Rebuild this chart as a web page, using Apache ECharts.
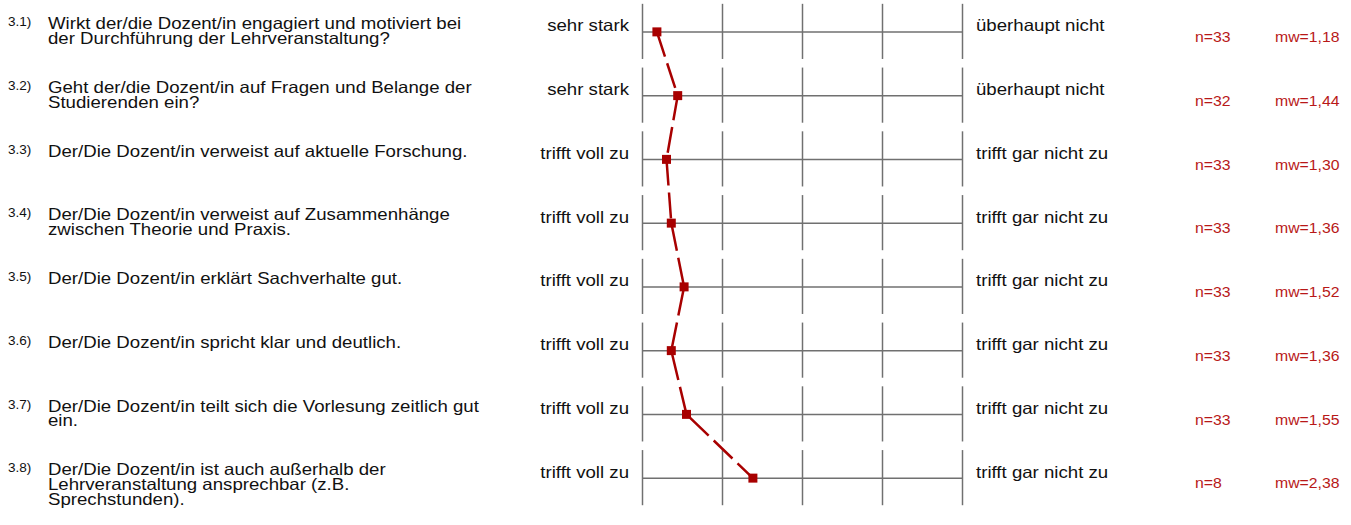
<!DOCTYPE html>
<html lang="de">
<head>
<meta charset="utf-8">
<title>Profillinie Dozent/in</title>
<script src="https://cdn.jsdelivr.net/npm/echarts@6/dist/echarts.min.js"></script>
<style>
  html, body { margin: 0; padding: 0; background: #ffffff; }
  #chart { width: 1351px; height: 525px; }
</style>
</head>
<body>
<div id="chart"></div>
<script>
// Item numbers and question wording
const itemNumbers = ['3.1)', '3.2)', '3.3)', '3.4)', '3.5)', '3.6)', '3.7)', '3.8)'];
const questions = [
  'Wirkt der/die Dozent/in engagiert und motiviert bei\nder Durchführung der Lehrveranstaltung?',
  'Geht der/die Dozent/in auf Fragen und Belange der\nStudierenden ein?',
  'Der/Die Dozent/in verweist auf aktuelle Forschung.',
  'Der/Die Dozent/in verweist auf Zusammenhänge\nzwischen Theorie und Praxis.',
  'Der/Die Dozent/in erklärt Sachverhalte gut.',
  'Der/Die Dozent/in spricht klar und deutlich.',
  'Der/Die Dozent/in teilt sich die Vorlesung zeitlich gut\nein.',
  'Der/Die Dozent/in ist auch außerhalb der\nLehrveranstaltung ansprechbar (z.B.\nSprechstunden).'
];
// Pole labels of each rating scale
const leftPoles = ['sehr stark', 'sehr stark', 'trifft voll zu', 'trifft voll zu',
  'trifft voll zu', 'trifft voll zu', 'trifft voll zu', 'trifft voll zu'];
const rightPoles = ['überhaupt nicht', 'überhaupt nicht', 'trifft gar nicht zu', 'trifft gar nicht zu',
  'trifft gar nicht zu', 'trifft gar nicht zu', 'trifft gar nicht zu', 'trifft gar nicht zu'];
// Number of answers and mean per item
const counts = [33, 32, 33, 33, 33, 33, 33, 8];
const means = [1.18, 1.44, 1.30, 1.36, 1.52, 1.36, 1.55, 2.38];
// Scale steps 1 (left pole) .. 5 (right pole)
const scaleSteps = [1, 2, 3, 4, 5];

const FONT = '"Liberation Sans", Arial, Helvetica, sans-serif';
const INK = '#111111';
const RED = '#a80000';
const RED_TEXT = '#b81818';
const GRID = '#707070';
const STRETCH = 1.13;

function fmtMean(v) { return 'mw=' + v.toFixed(2).replace('.', ','); }

function label(text, x, y, opts) {
  return {
    type: 'text',
    x: x, y: y,
    scaleX: STRETCH,
    silent: true,
    style: Object.assign({
      text: text,
      fill: INK,
      fontFamily: FONT,
      fontSize: 16.5,
      lineHeight: 15,
      align: 'left',
      verticalAlign: 'middle'
    }, opts || {})
  };
}

// One row of the profile: frame, pole labels, question text and statistics
function renderRow(params, api) {
  const i = params.dataIndex;
  const y = api.coord([scaleSteps[0], i])[1];
  const band = api.size([0, 1])[1];
  const xs = scaleSteps.map(function (s) { return api.coord([s, i])[0]; });
  const x0 = xs[0];
  const x1 = xs[xs.length - 1];
  const top = y - band * 0.44;
  const bottom = y + band * 0.425;
  const lineStyle = { stroke: GRID, lineWidth: 1.5 };
  const children = [];

  children.push({ type: 'line', silent: true, shape: { x1: x0, y1: y, x2: x1, y2: y }, style: lineStyle });
  xs.forEach(function (x) {
    children.push({ type: 'line', silent: true, shape: { x1: x, y1: top, x2: x, y2: bottom }, style: lineStyle });
  });

  const firstLine = y - 8.5;
  // the question text block starts with its first line at firstLine
  children.push(label(itemNumbers[i], x0 - 634.5, firstLine - 1.5, { fontSize: 12 }));
  children.push(label(questions[i], x0 - 594.5, firstLine - 7.5, { verticalAlign: 'top' }));
  children.push(label(leftPoles[i], x0 - 13.5, y - 6, { align: 'right' }));
  children.push(label(rightPoles[i], x1 + 13.5, y - 6));
  children.push(label('n=' + counts[i], x1 + 232.5, y + 5, { fontSize: 14, fill: RED_TEXT }));
  children.push(label(fmtMean(means[i]), x1 + 312.5, y + 5, { fontSize: 14, fill: RED_TEXT }));

  return { type: 'group', children: children };
}

const chart = echarts.init(document.getElementById('chart'), null, { renderer: 'svg' });
chart.setOption({
  animation: false,
  backgroundColor: '#ffffff',
  grid: { left: 642.5, width: 320, top: -2, height: 512 },
  xAxis: {
    type: 'value', min: 1, max: 5, interval: 1, show: false
  },
  yAxis: {
    type: 'category', data: itemNumbers, inverse: true, show: false
  },
  series: [
    {
      type: 'custom',
      z: 1,
      renderItem: renderRow,
      data: itemNumbers.map(function (_, i) { return [scaleSteps[0], i]; }),
      encode: { x: 0, y: 1 },
      silent: true
    },
    {
      type: 'line',
      z: 5,
      data: means.map(function (m, i) { return [m, i]; }),
      symbol: 'rect',
      symbolSize: 9,
      showSymbol: true,
      itemStyle: { color: RED },
      lineStyle: { color: RED, width: 2.5, type: [26, 7] },
      silent: true
    }
  ]
});
</script>
</body>
</html>
